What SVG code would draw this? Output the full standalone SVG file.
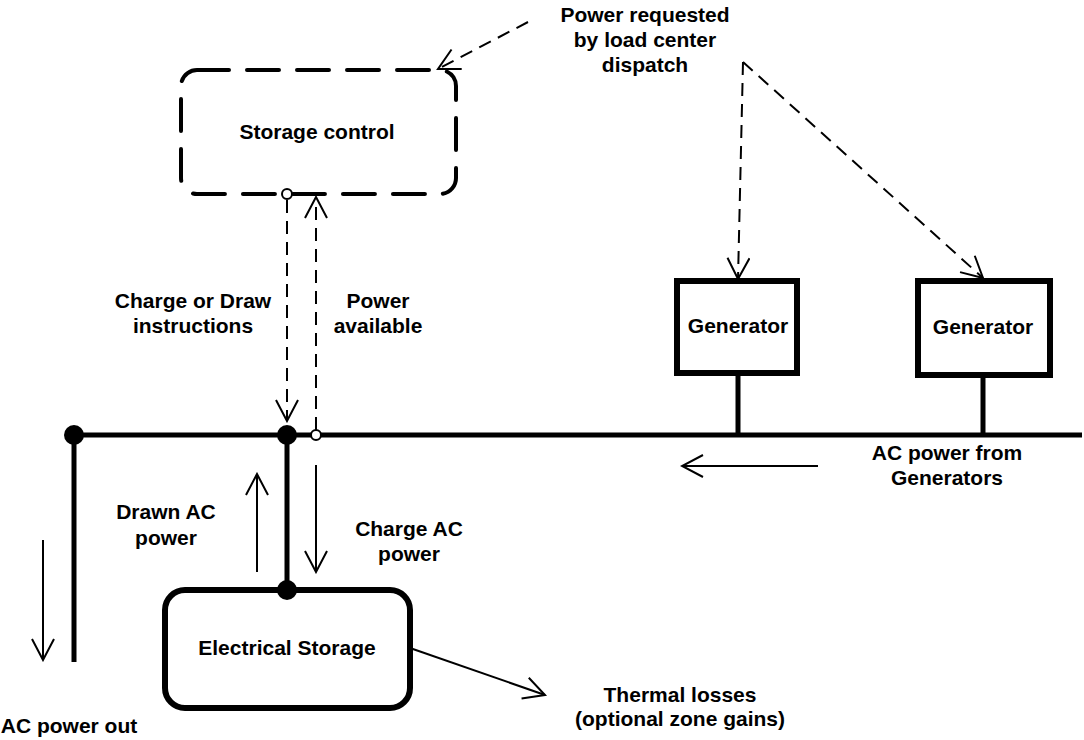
<svg xmlns="http://www.w3.org/2000/svg" width="1084" height="740" viewBox="0 0 1084 740">
<defs>
<style>
text{font-family:"Liberation Sans",Arial,sans-serif;font-weight:bold;font-size:21px;fill:#000;text-anchor:middle}
.thick{fill:none;stroke:#000;stroke-width:6}
.bus{fill:none;stroke:#000;stroke-width:5}
.thin{fill:none;stroke:#000;stroke-width:2}
.dash{fill:none;stroke:#000;stroke-width:2;stroke-dasharray:13 8}
.bigdash{fill:none;stroke:#000;stroke-width:4;stroke-dasharray:32 18;stroke-linecap:round}
</style>
<marker id="open" viewBox="0 0 24 24" refX="22" refY="12" markerWidth="24" markerHeight="24" markerUnits="userSpaceOnUse" orient="auto">
<path d="M1,1 L22,12 L1,23" fill="none" stroke="#000" stroke-width="2"/>
</marker>
</defs>
<rect width="1084" height="740" fill="#fff"/>

<g id="storage-control">
<rect x="181" y="70" width="275" height="124" rx="16" class="bigdash"/>
<text x="317" y="139">Storage control</text>
</g>

<g id="generator1">
<rect x="677" y="281" width="120" height="92" class="thick"/>
<text x="738" y="333">Generator</text>
</g>
<g id="generator2">
<rect x="918" y="281" width="132" height="94" class="thick"/>
<text x="983" y="334">Generator</text>
</g>

<g id="electrical-storage">
<rect x="165" y="590" width="245" height="118" rx="20" class="thick"/>
<text x="287" y="655">Electrical Storage</text>
</g>

<g id="connectors">
<line x1="72" y1="435" x2="1082" y2="435" class="bus"/>
<line x1="74" y1="435" x2="74" y2="662" class="bus"/>
<line x1="287" y1="435" x2="287" y2="590" class="bus"/>
<line x1="738" y1="373" x2="738" y2="435" class="bus"/>
<line x1="983" y1="375" x2="983" y2="435" class="bus"/>
<circle cx="74" cy="435" r="10"/>
<circle cx="287" cy="435" r="10"/>
<circle cx="287" cy="590" r="10"/>
<circle cx="316" cy="435" r="5" fill="#fff" stroke="#000" stroke-width="2"/>
<circle cx="287" cy="194" r="5" fill="#fff" stroke="#000" stroke-width="2"/>

<line x1="287" y1="200" x2="287" y2="421" class="dash" marker-end="url(#open)"/>
<line x1="316" y1="430" x2="316" y2="197" class="dash" marker-end="url(#open)"/>
<line x1="528" y1="22" x2="438" y2="69" class="dash" marker-end="url(#open)"/>
<line x1="743" y1="62" x2="738" y2="279" class="dash" marker-end="url(#open)"/>
<line x1="743" y1="62" x2="983" y2="278" class="dash" marker-end="url(#open)"/>

<line x1="257" y1="572" x2="257" y2="474" class="thin" marker-end="url(#open)"/>
<line x1="316" y1="465" x2="316" y2="572" class="thin" marker-end="url(#open)"/>
<line x1="43" y1="540" x2="43" y2="660" class="thin" marker-end="url(#open)"/>
<line x1="818" y1="466" x2="682" y2="466" class="thin" marker-end="url(#open)"/>
<line x1="410" y1="648" x2="545" y2="695" class="thin" marker-end="url(#open)"/>
</g>

<g id="labels">
<text x="645" y="22">Power requested</text>
<text x="645" y="47">by load center</text>
<text x="645" y="72">dispatch</text>
<text x="193" y="308">Charge or Draw</text>
<text x="193" y="333">instructions</text>
<text x="378" y="308">Power</text>
<text x="378" y="333">available</text>
<text x="947" y="460">AC power from</text>
<text x="947" y="485">Generators</text>
<text x="166" y="519">Drawn AC</text>
<text x="166" y="545">power</text>
<text x="409" y="536">Charge AC</text>
<text x="409" y="561">power</text>
<text x="680" y="702">Thermal losses</text>
<text x="680" y="726">(optional zone gains)</text>
<text x="69" y="733">AC power out</text>
</g>
</svg>
